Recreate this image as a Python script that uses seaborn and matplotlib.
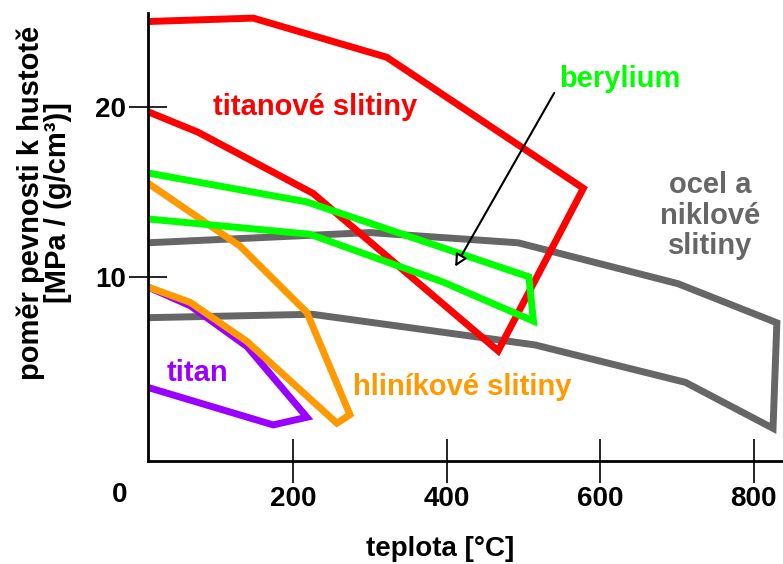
import matplotlib
matplotlib.use("Agg")
import matplotlib.pyplot as plt
import seaborn as sns
import pandas as pd

sns.set_theme(style="white")
plt.rcParams["font.family"] = ["Liberation Sans", "DejaVu Sans"]
plt.rcParams["font.weight"] = "bold"
plt.rcParams["text.color"] = "black"
plt.rcParams["xtick.color"] = "black"
plt.rcParams["ytick.color"] = "black"

# Outline of each material region: temperature [°C] vs. specific strength
ocel_t = [11, 300, 493, 701, 830, 825, 711, 515, 225, 11]
ocel_r = [12.0, 12.6, 12.0, 9.6, 7.3, 1.1, 3.8, 6.0, 7.8, 7.6]

titan_t = [11, 66, 140, 218, 174, 11]
titan_r = [9.4, 8.3, 5.9, 1.75, 1.3, 3.5]

hlinik_t = [11, 131, 218, 274, 257, 140, 66, 11]
hlinik_r = [15.5, 11.8, 7.9, 1.9, 1.4, 6.2, 8.5, 9.4]

titanove_t = [11, 148, 322, 578, 467, 226, 76, 11]
titanove_r = [25.0, 25.2, 22.9, 15.2, 5.65, 14.9, 18.5, 19.7]

berylium_t = [11, 218, 507, 513, 395, 222, 11]
berylium_r = [16.1, 14.4, 10.0, 7.4, 9.7, 12.5, 13.4]

regions = [
    ("ocel", ocel_t, ocel_r, "#666666"),
    ("titan", titan_t, titan_r, "#9900FF"),
    ("hlinik", hlinik_t, hlinik_r, "#FF9900"),
    ("titanove", titanove_t, titanove_r, "#FF0000"),
    ("berylium", berylium_t, berylium_r, "#00FF00"),
]

fig = plt.figure(figsize=(7.83, 5.64), dpi=100)
ax = fig.add_axes([148 / 783, 103 / 564, 635 / 783, 448 / 564])

for name, t, r, col in regions:
    df = pd.DataFrame({"t": t, "r": r})
    sns.lineplot(data=df, x="t", y="r", sort=False, estimator=None,
                 color=col, linewidth=5, ax=ax, solid_joinstyle="miter",
                 solid_capstyle="butt")

ax.set_xlim(11, 838)
ax.set_ylim(-0.82, 25.5)
ax.set_xticks([200, 400, 600, 800])
ax.set_yticks([10, 20])
ax.tick_params(axis="x", bottom=True, direction="inout", length=32, width=1.2,
               color="black", labelcolor="black", labelsize=20, pad=2)
ax.tick_params(axis="y", left=True, direction="inout", length=28, width=1.2,
               color="black", labelcolor="black", labelsize=20, pad=2)
for lab in ax.get_xticklabels() + ax.get_yticklabels():
    lab.set_fontweight("bold")
for s in ["top", "right"]:
    ax.spines[s].set_visible(False)
for s in ["left", "bottom"]:
    ax.spines[s].set_color("black")
    ax.spines[s].set_linewidth(2)
ax.set_xlabel("")
ax.set_ylabel("")

fig.text(120 / 783, 1 - 495 / 564, "0", ha="center", va="center",
         fontsize=20, fontweight="bold", color="black")
fig.text(440 / 783, 1 - 549 / 564, "teplota [°C]", ha="center", va="center",
         fontsize=20, fontweight="bold", color="black")
fig.text(44 / 783, 1 - 203 / 564, "poměr pevnosti k hustotě\n[MPa / (g/cm³)]",
         ha="center", va="center", rotation=90, fontsize=21,
         fontweight="bold", multialignment="center", linespacing=0.95,
         color="black")

ax.text(229, 20.0, "titanové slitiny", color="#FF0000", fontsize=21,
        fontweight="bold", ha="center", va="center")
ax.text(626, 21.6, "berylium", color="#00FF00", fontsize=21,
        fontweight="bold", ha="center", va="center")
ax.text(743, 13.6, "ocel a\nniklové\nslitiny", color="#666666", fontsize=21,
        fontweight="bold", ha="center", va="center", linespacing=1.1)
ax.text(420, 3.5, "hliníkové slitiny", color="#FF9900", fontsize=21,
        fontweight="bold", ha="center", va="center")
ax.text(75, 4.35, "titan", color="#9900FF", fontsize=21,
        fontweight="bold", ha="center", va="center")

ax.annotate("", xy=(411, 10.6), xytext=(540, 20.8),
            arrowprops=dict(arrowstyle="-|>,head_length=0.6,head_width=0.3",
                            fc="white", ec="black", lw=1.5,
                            shrinkA=0, shrinkB=0))

fig.savefig("out.png", dpi=100)
